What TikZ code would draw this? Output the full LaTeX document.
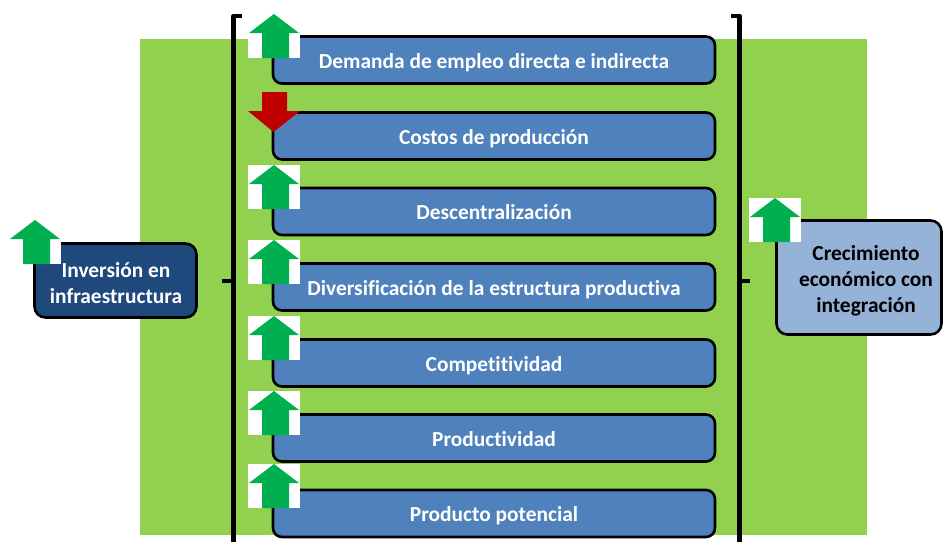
\documentclass[tikz,border=0pt]{standalone}
\usepackage{fontspec}
\setmainfont[Ligatures=NoCommon]{Carlito}
\definecolor{bggreen}{HTML}{92D050}
\definecolor{boxblue}{HTML}{4F81BD}
\definecolor{navyblue}{HTML}{1F497D}
\definecolor{paleblue}{HTML}{95B3D7}
\definecolor{arrgreen}{HTML}{00B050}
\definecolor{arrred}{HTML}{C00000}
\tikzset{
  boxfont/.style={font=\fontsize{21.4}{26}\selectfont\bfseries},
  stepbox/.style={draw=black, line width=2.6pt, rounded corners=9pt, fill=boxblue,
    text=white, boxfont, minimum width=442pt, minimum height=47pt, inner sep=0pt,
    text height=16pt, text depth=0pt},
  sidebox/.style={draw=black, line width=2.6pt, rounded corners=11pt, inner sep=0pt},
  bracketline/.style={line width=4.5pt, line join=round},
}
\newcommand\greenup[2]{%
  \fill[white] (#1,#2) rectangle ++(52,44);
  \fill[arrgreen] (#1+26,#2) -- (#1+51,#2+19) -- (#1+41,#2+19) -- (#1+41,#2+44)
    -- (#1+14,#2+44) -- (#1+14,#2+19) -- (#1+1,#2+19) -- cycle;
}
\begin{document}
\begin{tikzpicture}[x=1pt,y=-1pt]
\useasboundingbox (0,0) rectangle (944,542);
% green background
\fill[bggreen] (140,39) rectangle (867,535);
% brackets
\draw[bracketline] (242,16) -- (233.5,16) -- (233.5,542);
\draw[bracketline] (233.5,281) -- (222,281);
\draw[bracketline] (731,16) -- (739.5,16) -- (739.5,542);
\draw[bracketline] (739.5,281) -- (750,281);
% step boxes
\node[stepbox] (b1) at (494,60) {Demanda de empleo directa e indirecta};
\node[stepbox] (b2) at (494,136) {Costos de producción};
\node[stepbox] (b3) at (494,211.5) {Descentralización};
\node[stepbox] (b4) at (494,287) {Diversificación de la estructura productiva};
\node[stepbox] (b5) at (494,363) {Competitividad};
\node[stepbox] (b6) at (494,438) {Productividad};
\node[stepbox] (b7) at (494,513.5) {Producto potencial};
% side boxes
\node[sidebox, fill=navyblue, text=white, boxfont, align=center,
  minimum width=162pt, minimum height=74pt] (inv) at (115.5,280.5) {};
\node[boxfont, text=white, align=center] (invt) at (116,283)
  {Inversión en\\infraestructura};
\node[sidebox, fill=paleblue, minimum width=165pt, minimum height=114pt] (crec) at (859,277.5) {};
\node[boxfont, text=black, align=center] (crect) at (866,281) {Crecimiento\\económico con\\integración};
% arrows
\greenup{248}{14}
\fill[arrred] (262,92) -- (287,92) -- (287,111) -- (300,111) -- (273.5,132)
  -- (248,111) -- (262,111) -- cycle;
\greenup{248}{165}
\greenup{248}{240}
\greenup{248}{316}
\greenup{248}{391}
\greenup{248}{464}
\greenup{9}{220}
\greenup{749}{198}
\end{tikzpicture}
\end{document}
